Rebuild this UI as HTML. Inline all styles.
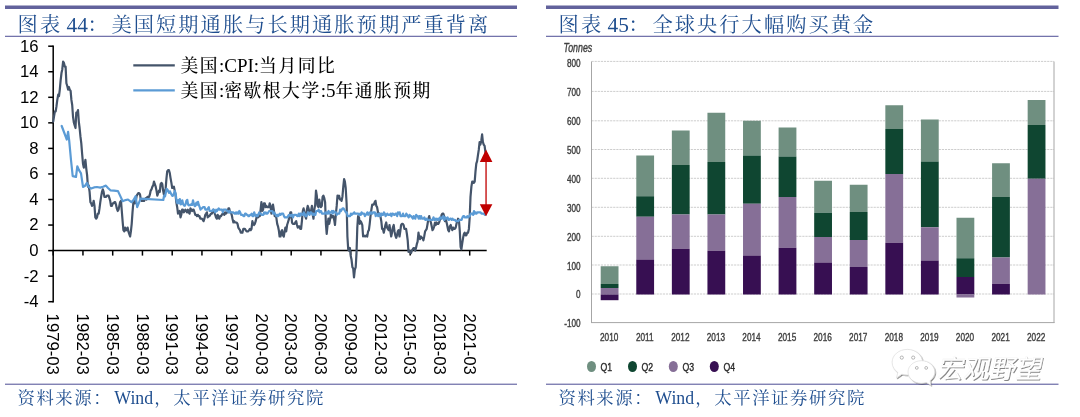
<!DOCTYPE html>
<html lang="zh-CN"><head><meta charset="utf-8"><title>图表</title>
<style>
html,body{margin:0;padding:0;background:#fff}
body{width:1080px;height:417px;overflow:hidden;position:relative}
svg{position:absolute;left:0;top:0;display:block}
.kai{font-family:"Liberation Serif","Noto Serif CJK SC",serif}
.ttl{font-size:20.2px;letter-spacing:2.1px;fill:#1f4e8f}
.lt{font-size:21.4px;letter-spacing:0}
.src{font-size:17.4px;letter-spacing:1.6px;fill:#1f4e8f}
.ls{font-size:17.8px;letter-spacing:0}
.lg{font-size:17.8px;letter-spacing:1.5px;font-weight:500;fill:#000}
.ll{font-size:19px;letter-spacing:0;font-weight:400}
.ax{font-family:"Liberation Sans",sans-serif;font-size:16.7px;fill:#000}
.wm{font-family:"Liberation Sans","Noto Sans CJK SC",sans-serif;font-size:26px;font-weight:400}
.nar{font-family:"Liberation Sans",sans-serif;font-size:11.2px;fill:#404040;stroke:#404040;stroke-width:0.4px}
</style></head><body>
<svg width="1080" height="417" viewBox="0 0 1080 417">
<rect width="1080" height="417" fill="#fff"/>
<!-- header bars -->
<rect x="5" y="5.5" width="512" height="3.5" fill="#62629c"/>
<rect x="546" y="5.5" width="512.5" height="3.5" fill="#62629c"/>
<rect x="5" y="35.75" width="512" height="1.15" fill="#6464a2"/>
<rect x="546" y="35.75" width="512.5" height="1.15" fill="#6464a2"/>
<rect x="5" y="383.65" width="512" height="1.15" fill="#6464a2"/>
<rect x="546" y="383.65" width="512.5" height="1.15" fill="#6464a2"/>
<text class="kai ttl" x="17.6" y="31.5" xml:space="preserve">图表<tspan class="lt" dx="4.4">44</tspan><tspan dx="-0.4">：</tspan><tspan dx="1.6">美国短期通胀与长期通胀预期严重背离</tspan></text>
<text class="kai ttl" x="558.6" y="31.5" xml:space="preserve">图表<tspan class="lt" dx="4.4">45</tspan><tspan dx="-0.4">：</tspan><tspan dx="1.6">全球央行大幅购买黄金</tspan></text>
<text class="kai src" x="17.4" y="403.6" xml:space="preserve">资料来源：<tspan class="ls" dx="2.0">Wind</tspan><tspan dx="1">，太平洋证券研究院</tspan></text>
<text class="kai src" x="558.4" y="403.6" xml:space="preserve">资料来源：<tspan class="ls" dx="2.0">Wind</tspan><tspan dx="1">，太平洋证券研究院</tspan></text>

<!-- left chart -->
<g stroke="#000" stroke-width="1.5" fill="none">
<line x1="53.2" x2="53.2" y1="45.45" y2="302.45"/>
<line x1="52.45" x2="486.7" y1="250.60" y2="250.60"/>
<line x1="48.2" x2="53.2" y1="301.70" y2="301.70"/><line x1="48.2" x2="53.2" y1="276.15" y2="276.15"/><line x1="48.2" x2="53.2" y1="250.60" y2="250.60"/><line x1="48.2" x2="53.2" y1="225.05" y2="225.05"/><line x1="48.2" x2="53.2" y1="199.50" y2="199.50"/><line x1="48.2" x2="53.2" y1="173.95" y2="173.95"/><line x1="48.2" x2="53.2" y1="148.40" y2="148.40"/><line x1="48.2" x2="53.2" y1="122.85" y2="122.85"/><line x1="48.2" x2="53.2" y1="97.30" y2="97.30"/><line x1="48.2" x2="53.2" y1="71.75" y2="71.75"/><line x1="48.2" x2="53.2" y1="46.20" y2="46.20"/>
<line x1="53.20" x2="53.20" y1="250.60" y2="255.60"/><line x1="82.95" x2="82.95" y1="250.60" y2="255.60"/><line x1="112.70" x2="112.70" y1="250.60" y2="255.60"/><line x1="142.45" x2="142.45" y1="250.60" y2="255.60"/><line x1="172.20" x2="172.20" y1="250.60" y2="255.60"/><line x1="201.95" x2="201.95" y1="250.60" y2="255.60"/><line x1="231.70" x2="231.70" y1="250.60" y2="255.60"/><line x1="261.45" x2="261.45" y1="250.60" y2="255.60"/><line x1="291.20" x2="291.20" y1="250.60" y2="255.60"/><line x1="320.95" x2="320.95" y1="250.60" y2="255.60"/><line x1="350.70" x2="350.70" y1="250.60" y2="255.60"/><line x1="380.45" x2="380.45" y1="250.60" y2="255.60"/><line x1="410.20" x2="410.20" y1="250.60" y2="255.60"/><line x1="439.95" x2="439.95" y1="250.60" y2="255.60"/><line x1="469.70" x2="469.70" y1="250.60" y2="255.60"/>
</g>
<g class="ax"><text x="38.6" y="307.10" text-anchor="end">-4</text><text x="38.6" y="281.55" text-anchor="end">-2</text><text x="38.6" y="256.00" text-anchor="end">0</text><text x="38.6" y="230.45" text-anchor="end">2</text><text x="38.6" y="204.90" text-anchor="end">4</text><text x="38.6" y="179.35" text-anchor="end">6</text><text x="38.6" y="153.80" text-anchor="end">8</text><text x="38.6" y="128.25" text-anchor="end">10</text><text x="38.6" y="102.70" text-anchor="end">12</text><text x="38.6" y="77.15" text-anchor="end">14</text><text x="38.6" y="51.60" text-anchor="end">16</text></g>
<g class="ax"><text transform="translate(47.30,313.6) rotate(90)">1979-03</text><text transform="translate(77.05,313.6) rotate(90)">1982-03</text><text transform="translate(106.80,313.6) rotate(90)">1985-03</text><text transform="translate(136.55,313.6) rotate(90)">1988-03</text><text transform="translate(166.30,313.6) rotate(90)">1991-03</text><text transform="translate(196.05,313.6) rotate(90)">1994-03</text><text transform="translate(225.80,313.6) rotate(90)">1997-03</text><text transform="translate(255.55,313.6) rotate(90)">2000-03</text><text transform="translate(285.30,313.6) rotate(90)">2003-03</text><text transform="translate(315.05,313.6) rotate(90)">2006-03</text><text transform="translate(344.80,313.6) rotate(90)">2009-03</text><text transform="translate(374.55,313.6) rotate(90)">2012-03</text><text transform="translate(404.30,313.6) rotate(90)">2015-03</text><text transform="translate(434.05,313.6) rotate(90)">2018-03</text><text transform="translate(463.80,313.6) rotate(90)">2021-03</text></g>
<polyline points="53.2,121.6 54.0,116.5 54.9,111.4 55.7,111.4 56.5,106.2 57.3,99.9 58.2,94.7 59.0,96.0 59.8,89.6 60.6,80.7 61.5,73.0 62.3,69.2 63.1,61.5 63.9,62.8 64.8,66.6 65.6,66.6 66.4,83.2 67.2,85.8 68.1,89.6 68.9,87.1 69.7,89.6 70.6,90.9 71.4,99.9 72.2,105.0 73.0,116.5 73.9,122.8 74.7,125.4 75.5,128.0 76.3,112.6 77.2,112.6 78.0,110.1 78.8,121.6 79.6,128.0 80.5,136.9 81.3,143.3 82.1,153.5 83.0,163.7 83.8,167.6 84.6,165.0 85.4,159.9 86.3,168.8 87.1,175.2 87.9,186.7 88.7,185.4 89.6,191.8 90.4,202.1 91.2,203.3 92.0,205.9 92.9,204.6 93.7,200.8 94.5,205.9 95.3,217.4 96.2,218.7 97.0,217.4 97.8,213.6 98.7,213.6 99.5,208.4 100.3,202.1 101.1,196.9 102.0,191.8 102.8,189.3 103.6,191.8 104.4,196.9 105.3,196.9 106.1,196.9 106.9,195.7 107.7,195.7 108.6,195.7 109.4,198.2 110.2,200.8 111.0,205.9 111.9,205.9 112.7,203.3 113.5,203.3 114.4,202.1 115.2,202.1 116.0,204.6 116.8,208.4 117.7,211.0 118.5,209.7 119.3,205.9 120.1,202.1 121.0,200.8 121.8,211.0 122.6,221.2 123.4,230.2 124.3,231.4 125.1,227.6 125.9,230.2 126.7,230.2 127.6,227.6 128.4,231.4 129.2,234.0 130.1,236.5 130.9,231.4 131.7,223.8 132.5,212.3 133.4,202.1 134.2,200.8 135.0,203.3 135.8,200.8 136.7,195.7 137.5,194.4 138.3,193.1 139.1,193.1 140.0,194.4 140.8,199.5 141.6,200.8 142.4,200.8 143.3,200.8 144.1,200.8 144.9,199.5 145.8,198.2 146.6,199.5 147.4,196.9 148.2,196.9 149.1,196.9 149.9,194.4 150.7,190.6 151.5,189.3 152.4,186.7 153.2,185.4 154.0,181.6 154.8,184.2 155.7,186.7 156.5,190.6 157.3,195.7 158.2,193.1 159.0,190.6 159.8,191.8 160.6,184.2 161.5,182.9 162.3,184.2 163.1,190.6 163.9,194.4 164.8,190.6 165.6,189.3 166.4,179.1 167.2,171.4 168.1,170.1 168.9,170.1 169.7,172.7 170.5,177.8 171.4,182.9 172.2,188.0 173.0,188.0 173.9,186.7 174.7,190.6 175.5,194.4 176.3,202.1 177.2,207.2 178.0,213.6 178.8,212.3 179.6,211.0 180.5,217.4 181.3,214.8 182.1,209.7 182.9,209.7 183.8,212.3 184.6,211.0 185.4,209.7 186.2,211.0 187.1,212.3 187.9,209.7 188.7,212.3 189.6,213.6 190.4,208.4 191.2,209.7 192.0,211.0 192.9,209.7 193.7,209.7 194.5,212.3 195.3,214.8 196.2,214.8 197.0,216.1 197.8,214.8 198.6,216.1 199.5,216.1 200.3,218.7 201.1,218.7 201.9,218.7 202.8,219.9 203.6,221.2 204.4,218.7 205.3,214.8 206.1,213.6 206.9,212.3 207.7,217.4 208.6,216.1 209.4,216.1 210.2,214.8 211.0,213.6 211.9,213.6 212.7,211.0 213.5,209.7 214.3,212.3 215.2,214.8 216.0,217.4 216.8,218.7 217.7,214.8 218.5,217.4 219.3,218.7 220.1,216.1 221.0,216.1 221.8,214.8 222.6,213.6 223.4,213.6 224.3,214.8 225.1,212.3 225.9,213.6 226.7,212.3 227.6,212.3 228.4,208.4 229.2,208.4 230.0,212.3 230.9,212.3 231.7,214.8 232.5,218.7 233.4,222.5 234.2,221.2 235.0,222.5 235.8,222.5 236.7,222.5 237.5,223.8 238.3,227.6 239.1,228.9 240.0,230.2 240.8,232.7 241.6,232.7 242.4,232.7 243.3,228.9 244.1,228.9 244.9,228.9 245.7,230.2 246.6,231.4 247.4,231.4 248.2,231.4 249.1,230.2 249.9,228.9 250.7,230.2 251.5,228.9 252.4,221.2 253.2,223.8 254.0,225.0 254.8,223.8 255.7,221.2 256.5,217.4 257.3,217.4 258.1,217.4 259.0,216.1 259.8,216.1 260.6,209.7 261.4,202.1 262.3,211.0 263.1,209.7 263.9,203.3 264.8,203.3 265.6,207.2 266.4,205.9 267.2,207.2 268.1,207.2 268.9,207.2 269.7,203.3 270.5,205.9 271.4,213.6 272.2,208.4 273.0,204.6 273.8,209.7 274.7,216.1 275.5,216.1 276.3,217.4 277.2,223.8 278.0,226.3 278.8,230.2 279.6,236.5 280.5,236.5 281.3,231.4 282.1,230.2 282.9,235.3 283.8,236.5 284.6,231.4 285.4,227.6 286.2,231.4 287.1,225.0 287.9,222.5 288.7,219.9 289.5,217.4 290.4,212.3 291.2,212.3 292.0,222.5 292.9,223.8 293.7,223.8 294.5,223.8 295.3,222.5 296.2,221.2 297.0,225.0 297.8,227.6 298.6,226.3 299.5,226.3 300.3,228.9 301.1,228.9 301.9,221.2 302.8,211.0 303.6,208.4 304.4,212.3 305.2,216.1 306.1,218.7 306.9,209.7 307.7,205.9 308.6,208.4 309.4,212.3 310.2,212.3 311.0,211.0 311.9,205.9 312.7,214.8 313.5,218.7 314.3,209.7 315.2,204.6 316.0,190.6 316.8,195.7 317.6,205.9 318.5,207.2 319.3,199.5 320.1,204.6 320.9,207.2 321.8,205.9 322.6,196.9 323.4,195.7 324.3,198.2 325.1,202.1 325.9,223.8 326.7,234.0 327.6,225.0 328.4,218.7 329.2,223.8 330.0,219.9 330.9,214.8 331.7,217.4 332.5,216.1 333.3,216.1 334.2,219.9 335.0,225.0 335.8,214.8 336.7,205.9 337.5,195.7 338.3,198.2 339.1,195.7 340.0,199.5 340.8,199.5 341.6,200.8 342.4,196.9 343.3,186.7 344.1,179.1 344.9,181.6 345.7,188.0 346.6,203.3 347.4,236.5 348.2,249.3 349.0,250.6 349.9,248.0 350.7,255.7 351.5,259.5 352.4,267.2 353.2,268.5 354.0,277.4 354.8,269.8 355.7,267.2 356.5,253.2 357.3,227.6 358.1,216.1 359.0,217.4 359.8,223.8 360.6,221.2 361.4,222.5 362.3,225.0 363.1,236.5 363.9,235.3 364.7,236.5 365.6,236.5 366.4,235.3 367.2,236.5 368.1,231.4 368.9,230.2 369.7,223.8 370.5,216.1 371.4,209.7 372.2,204.6 373.0,204.6 373.8,204.6 374.7,202.1 375.5,200.8 376.3,205.9 377.1,207.2 378.0,212.3 378.8,213.6 379.6,213.6 380.4,216.1 381.3,221.2 382.1,228.9 382.9,228.9 383.8,232.7 384.6,228.9 385.4,225.0 386.2,222.5 387.1,227.6 387.9,228.9 388.7,230.2 389.5,225.0 390.4,231.4 391.2,236.5 392.0,232.7 392.8,227.6 393.7,225.0 394.5,231.4 395.3,235.3 396.2,237.8 397.0,235.3 397.8,231.4 398.6,230.2 399.5,236.5 400.3,231.4 401.1,225.0 401.9,223.8 402.8,223.8 403.6,225.0 404.4,228.9 405.2,228.9 406.1,228.9 406.9,234.0 407.7,240.4 408.5,251.9 409.4,250.6 410.2,251.9 411.0,253.2 411.9,250.6 412.7,249.3 413.5,248.0 414.3,248.0 415.2,250.6 416.0,248.0 416.8,244.2 417.6,241.7 418.5,232.7 419.3,237.8 420.1,239.1 420.9,236.5 421.8,237.8 422.6,237.8 423.4,240.4 424.2,236.5 425.1,231.4 425.9,230.2 426.7,228.9 427.6,223.8 428.4,218.7 429.2,216.1 430.0,219.9 430.9,222.5 431.7,226.3 432.5,230.2 433.3,228.9 434.2,226.3 435.0,222.5 435.8,225.0 436.6,222.5 437.5,223.8 438.3,223.8 439.1,222.5 439.9,219.9 440.8,218.7 441.6,214.8 442.4,213.6 443.3,213.6 444.1,216.1 444.9,221.2 445.7,218.7 446.6,222.5 447.4,226.3 448.2,230.2 449.0,231.4 449.9,226.3 450.7,225.0 451.5,227.6 452.3,230.2 453.2,227.6 454.0,228.9 454.8,228.9 455.7,227.6 456.5,223.8 457.3,221.2 458.1,218.7 459.0,221.2 459.8,231.4 460.6,246.8 461.4,249.3 462.3,242.9 463.1,237.8 463.9,234.0 464.7,232.7 465.6,235.3 466.4,235.3 467.2,232.7 468.0,232.7 468.9,228.9 469.7,217.4 470.5,196.9 471.4,186.7 472.2,181.6 473.0,181.6 473.8,182.9 474.7,181.6 475.5,171.4 476.3,163.7 477.1,161.2 478.0,154.8 478.8,149.7 479.6,142.0 480.4,144.6 481.3,140.7 482.1,134.3 482.9,142.0 483.7,144.6 484.6,145.8 485.4,152.2 486.2,159.9" fill="none" stroke="#44546a" stroke-width="2.2" stroke-linejoin="round" stroke-linecap="round"/>
<polyline points="61.7,126.0 66.8,139.5 68.1,131.8 69.2,140.7 71.0,160.0 72.7,176.1 76.0,176.9 77.3,166.3 79.0,170.1 81.0,173.4 83.0,186.9 84.8,186.1 86.9,182.9 88.5,186.7 91.1,188.6 94.0,187.4 97.0,187.0 100.3,187.6 103.0,186.7 105.9,185.6 108.0,188.0 110.4,190.3 114.0,190.6 118.0,191.1 122.7,201.2 125.5,200.1 128.0,199.5 131.4,202.1 133.5,200.1 135.6,196.2 137.2,207.2 139.0,202.7 140.6,198.7 163.3,200.0 164.1,195.5 165.0,196.4 165.8,193.1 166.6,188.8 167.4,189.5 168.3,191.5 169.1,192.9 169.9,191.3 170.7,193.1 171.6,194.7 172.4,195.9 173.2,195.5 174.0,193.1 174.9,191.0 175.7,194.0 176.5,200.6 177.3,203.1 178.2,200.1 179.0,203.3 179.8,199.0 180.7,204.4 181.5,203.8 182.3,200.3 183.1,203.9 184.0,205.4 184.8,205.8 185.6,204.2 186.4,200.8 187.3,199.9 188.1,204.7 188.9,205.4 189.7,204.8 190.6,205.2 191.4,204.1 192.2,204.9 193.0,200.3 193.9,204.2 194.7,206.2 195.5,205.7 196.4,202.6 197.2,204.7 198.0,201.8 198.8,204.9 199.7,207.1 200.5,209.7 201.3,208.4 202.1,208.4 203.0,207.2 203.8,207.2 204.6,207.2 205.4,209.7 206.3,209.7 207.1,209.7 207.9,208.4 208.8,207.2 209.6,211.0 210.4,211.0 211.2,211.0 212.1,211.0 212.9,209.7 213.7,209.7 214.5,211.0 215.4,212.3 216.2,209.7 217.0,211.0 217.8,209.7 218.7,208.4 219.5,209.7 220.3,209.7 221.1,209.7 222.0,209.7 222.8,212.3 223.6,209.7 224.5,209.7 225.3,209.7 226.1,209.7 226.9,211.0 227.8,211.0 228.6,212.3 229.4,211.0 230.2,212.3 231.1,212.3 231.9,212.3 232.7,212.3 233.5,212.3 234.4,213.6 235.2,213.6 236.0,212.3 236.8,213.6 237.7,212.3 238.5,213.6 239.3,211.0 240.2,212.3 241.0,214.8 241.8,214.8 242.6,214.8 243.5,216.1 244.3,216.1 245.1,213.6 245.9,213.6 246.8,214.8 247.6,214.8 248.4,216.1 249.2,216.1 250.1,214.8 250.9,214.8 251.7,213.6 252.5,216.1 253.4,216.1 254.2,212.3 255.0,214.8 255.9,216.1 256.7,214.8 257.5,216.1 258.3,214.8 259.2,212.3 260.0,213.6 260.8,213.6 261.6,214.8 262.5,214.8 263.3,214.8 264.1,212.3 264.9,213.6 265.8,212.3 266.6,213.6 267.4,213.6 268.3,212.3 269.1,211.0 269.9,211.0 270.7,211.0 271.6,211.0 272.4,211.0 273.2,213.6 274.0,212.3 274.9,213.6 275.7,214.8 276.5,216.1 277.3,214.8 278.2,216.1 279.0,214.8 279.8,213.6 280.6,214.8 281.5,213.6 282.3,213.6 283.1,213.6 284.0,216.1 284.8,217.4 285.6,217.4 286.4,217.4 287.3,217.4 288.1,216.1 288.9,214.8 289.7,214.8 290.6,216.1 291.4,214.8 292.2,214.8 293.0,217.4 293.9,214.8 294.7,214.8 295.5,214.8 296.3,214.8 297.2,216.1 298.0,216.1 298.8,213.6 299.7,216.1 300.5,213.6 301.3,213.6 302.1,214.8 303.0,214.8 303.8,212.3 304.6,213.6 305.4,216.1 306.3,216.1 307.1,214.8 307.9,212.3 308.7,213.6 309.6,214.8 310.4,212.3 311.2,212.3 312.1,213.6 312.9,214.8 313.7,213.6 314.5,214.8 315.4,214.8 316.2,211.0 317.0,211.0 317.8,211.0 318.7,209.7 319.5,212.3 320.3,211.0 321.1,211.0 322.0,213.6 322.8,213.6 323.6,213.6 324.4,213.6 325.3,212.3 326.1,213.6 326.9,212.3 327.8,213.6 328.6,211.0 329.4,213.6 330.2,212.3 331.1,212.3 331.9,211.0 332.7,213.6 333.5,211.0 334.4,212.3 335.2,212.3 336.0,212.3 336.8,214.8 337.7,213.6 338.5,213.6 339.3,213.6 340.1,209.7 341.0,211.0 341.8,209.7 342.6,208.4 343.5,208.4 344.3,209.7 345.1,211.0 345.9,212.3 346.8,212.3 347.6,216.1 348.4,216.1 349.2,216.1 350.1,216.1 350.9,213.6 351.7,214.8 352.5,213.6 353.4,213.6 354.2,212.3 355.0,213.6 355.8,213.6 356.7,213.6 357.5,213.6 358.3,213.6 359.2,214.8 360.0,213.6 360.8,214.8 361.6,212.3 362.5,213.6 363.3,213.6 364.1,213.6 364.9,216.1 365.8,214.8 366.6,213.6 367.4,212.3 368.2,214.8 369.1,213.6 369.9,212.3 370.7,213.6 371.6,212.3 372.4,213.6 373.2,212.3 374.0,212.3 374.9,212.3 375.7,216.1 376.5,213.6 377.3,214.8 378.2,216.1 379.0,213.6 379.8,213.6 380.6,216.1 381.5,213.6 382.3,214.8 383.1,214.8 383.9,212.3 384.8,213.6 385.6,216.1 386.4,214.8 387.3,213.6 388.1,214.8 388.9,214.8 389.7,214.8 390.6,213.6 391.4,216.1 392.2,213.6 393.0,213.6 393.9,214.8 394.7,214.8 395.5,213.6 396.3,213.6 397.2,216.1 398.0,212.3 398.8,213.6 399.6,212.3 400.5,216.1 401.3,216.1 402.1,216.1 403.0,213.6 403.8,216.1 404.6,216.1 405.4,216.1 406.3,213.6 407.1,214.8 407.9,216.1 408.7,217.4 409.6,214.8 410.4,216.1 411.2,216.1 412.0,217.4 412.9,218.7 413.7,216.1 414.5,217.4 415.3,218.7 416.2,214.8 417.0,216.1 417.8,216.1 418.7,218.7 419.5,216.1 420.3,218.7 421.1,216.1 422.0,218.7 422.8,218.7 423.6,218.7 424.4,217.4 425.3,219.9 426.1,219.9 426.9,218.7 427.7,219.9 428.6,219.9 429.4,219.9 430.2,219.9 431.1,219.9 431.9,219.9 432.7,219.9 433.5,217.4 434.4,219.9 435.2,218.7 436.0,219.9 436.8,218.7 437.7,219.9 438.5,218.7 439.3,219.9 440.1,217.4 441.0,217.4 441.8,218.7 442.6,217.4 443.4,216.1 444.3,219.9 445.1,217.4 445.9,218.7 446.8,218.7 447.6,217.4 448.4,219.9 449.2,219.9 450.1,218.7 450.9,218.7 451.7,219.9 452.5,218.7 453.4,219.9 454.2,219.9 455.0,219.9 455.8,221.2 456.7,221.2 457.5,221.2 458.3,221.2 459.1,219.9 460.0,219.9 460.8,219.9 461.6,219.9 462.5,217.4 463.3,216.1 464.1,216.1 464.9,217.4 465.8,217.4 466.6,217.4 467.4,216.1 468.2,217.4 469.1,216.1 469.9,216.1 470.7,213.6 471.5,213.6 472.4,213.6 473.2,214.8 474.0,211.0 474.8,213.6 475.7,212.3 476.5,213.6 477.3,212.3 478.2,212.3 479.0,212.3 479.8,212.3 480.6,212.3 481.5,213.6 482.3,213.6 483.1,213.6 483.9,213.6 484.8,214.8 485.6,214.8" fill="none" stroke="#5b9bd5" stroke-width="2.2" stroke-linejoin="round" stroke-linecap="round"/>
<line x1="133.3" x2="174.8" y1="65.3" y2="65.3" stroke="#44546a" stroke-width="2.2"/>
<line x1="133.3" x2="174.8" y1="90.4" y2="90.4" stroke="#5b9bd5" stroke-width="2.2"/>
<text class="kai lg" x="180.4" y="72.2">美国<tspan class="ll">:CPI:</tspan>当月同比</text>
<text class="kai lg" x="180.4" y="97.3">美国<tspan class="ll">:</tspan>密歇根大学<tspan class="ll">:5</tspan>年通胀预期</text>
<!-- arrow -->
<g fill="#c00000" stroke="none">
<rect x="485.4" y="160" width="1.3" height="46"/>
<polygon points="486,149.5 492.4,162 479.8,162"/>
<polygon points="486,216.3 492.4,204.2 479.8,204.2"/>
</g>

<!-- right chart -->
<g stroke="#cdcdcd" stroke-width="1" stroke-dasharray="2.2,0.9" fill="none">
<line x1="591.5" x2="1054" y1="294.00" y2="294.00"/><line x1="591.5" x2="1054" y1="265.00" y2="265.00"/><line x1="591.5" x2="1054" y1="236.30" y2="236.30"/><line x1="591.5" x2="1054" y1="207.30" y2="207.30"/><line x1="591.5" x2="1054" y1="178.30" y2="178.30"/><line x1="591.5" x2="1054" y1="149.50" y2="149.50"/><line x1="591.5" x2="1054" y1="120.80" y2="120.80"/><line x1="591.5" x2="1054" y1="91.40" y2="91.40"/><line x1="591.5" x2="1054" y1="61.40" y2="61.40"/>
</g>
<g><rect x="636.28" y="155.50" width="17.8" height="40.75" fill="#6f8f80"/><rect x="636.28" y="196.25" width="17.8" height="20.50" fill="#0f4631"/><rect x="636.28" y="216.75" width="17.8" height="42.75" fill="#866f97"/><rect x="636.28" y="259.50" width="17.8" height="35.00" fill="#370f52"/><rect x="671.86" y="130.50" width="17.8" height="34.50" fill="#6f8f80"/><rect x="671.86" y="165.00" width="17.8" height="49.50" fill="#0f4631"/><rect x="671.86" y="214.50" width="17.8" height="34.25" fill="#866f97"/><rect x="671.86" y="248.75" width="17.8" height="45.75" fill="#370f52"/><rect x="707.44" y="112.75" width="17.8" height="49.25" fill="#6f8f80"/><rect x="707.44" y="162.00" width="17.8" height="52.50" fill="#0f4631"/><rect x="707.44" y="214.50" width="17.8" height="36.25" fill="#866f97"/><rect x="707.44" y="250.75" width="17.8" height="43.75" fill="#370f52"/><rect x="743.02" y="120.75" width="17.8" height="34.75" fill="#6f8f80"/><rect x="743.02" y="155.50" width="17.8" height="48.25" fill="#0f4631"/><rect x="743.02" y="203.75" width="17.8" height="51.75" fill="#866f97"/><rect x="743.02" y="255.50" width="17.8" height="39.00" fill="#370f52"/><rect x="778.60" y="127.50" width="17.8" height="29.00" fill="#6f8f80"/><rect x="778.60" y="156.50" width="17.8" height="40.50" fill="#0f4631"/><rect x="778.60" y="197.00" width="17.8" height="50.75" fill="#866f97"/><rect x="778.60" y="247.75" width="17.8" height="46.75" fill="#370f52"/><rect x="814.18" y="180.75" width="17.8" height="32.00" fill="#6f8f80"/><rect x="814.18" y="212.75" width="17.8" height="24.25" fill="#0f4631"/><rect x="814.18" y="237.00" width="17.8" height="25.50" fill="#866f97"/><rect x="814.18" y="262.50" width="17.8" height="32.00" fill="#370f52"/><rect x="849.76" y="184.75" width="17.8" height="27.25" fill="#6f8f80"/><rect x="849.76" y="212.00" width="17.8" height="28.00" fill="#0f4631"/><rect x="849.76" y="240.00" width="17.8" height="27.00" fill="#866f97"/><rect x="849.76" y="267.00" width="17.8" height="27.50" fill="#370f52"/><rect x="885.34" y="105.25" width="17.8" height="23.75" fill="#6f8f80"/><rect x="885.34" y="129.00" width="17.8" height="45.00" fill="#0f4631"/><rect x="885.34" y="174.00" width="17.8" height="68.75" fill="#866f97"/><rect x="885.34" y="242.75" width="17.8" height="51.75" fill="#370f52"/><rect x="920.92" y="119.50" width="17.8" height="42.00" fill="#6f8f80"/><rect x="920.92" y="161.50" width="17.8" height="65.75" fill="#0f4631"/><rect x="920.92" y="227.25" width="17.8" height="33.25" fill="#866f97"/><rect x="920.92" y="260.50" width="17.8" height="34.00" fill="#370f52"/><rect x="992.08" y="163.25" width="17.8" height="33.75" fill="#6f8f80"/><rect x="992.08" y="197.00" width="17.8" height="60.50" fill="#0f4631"/><rect x="992.08" y="257.50" width="17.8" height="26.25" fill="#866f97"/><rect x="992.08" y="283.75" width="17.8" height="10.75" fill="#370f52"/><rect x="600.70" y="266.25" width="17.8" height="17.75" fill="#6f8f80"/><rect x="600.70" y="284.00" width="17.8" height="4.00" fill="#0f4631"/><rect x="600.70" y="288.00" width="17.8" height="6.50" fill="#866f97"/><rect x="600.70" y="294.50" width="17.8" height="5.70" fill="#370f52"/><rect x="956.50" y="217.75" width="17.8" height="40.50" fill="#6f8f80"/><rect x="956.50" y="258.25" width="17.8" height="18.75" fill="#0f4631"/><rect x="956.50" y="277.00" width="17.8" height="17.50" fill="#370f52"/><rect x="956.50" y="294.50" width="17.8" height="3.00" fill="#866f97"/><rect x="1027.66" y="100.00" width="17.8" height="25.00" fill="#6f8f80"/><rect x="1027.66" y="125.00" width="17.8" height="53.75" fill="#0f4631"/><rect x="1027.66" y="178.75" width="17.8" height="115.75" fill="#866f97"/></g>
<g stroke="#a6a6a6" stroke-width="1" fill="none">
<line x1="591.5" x2="591.5" y1="61.5" y2="323"/>
<line x1="591" x2="1054.5" y1="322.6" y2="322.6"/>
<line x1="1054" x2="1054" y1="61.5" y2="323"/>
</g>
<g class="nar"><text transform="translate(580.6,327.40) scale(0.73,1)" text-anchor="end">-100</text><text transform="translate(580.6,298.45) scale(0.73,1)" text-anchor="end">0</text><text transform="translate(580.6,269.50) scale(0.73,1)" text-anchor="end">100</text><text transform="translate(580.6,240.55) scale(0.73,1)" text-anchor="end">200</text><text transform="translate(580.6,211.60) scale(0.73,1)" text-anchor="end">300</text><text transform="translate(580.6,182.65) scale(0.73,1)" text-anchor="end">400</text><text transform="translate(580.6,153.70) scale(0.73,1)" text-anchor="end">500</text><text transform="translate(580.6,124.75) scale(0.73,1)" text-anchor="end">600</text><text transform="translate(580.6,95.80) scale(0.73,1)" text-anchor="end">700</text><text transform="translate(580.6,66.85) scale(0.73,1)" text-anchor="end">800</text></g>
<g class="nar"><text transform="translate(609.20,341.0) scale(0.735,1)" text-anchor="middle">2010</text><text transform="translate(644.78,341.0) scale(0.735,1)" text-anchor="middle">2011</text><text transform="translate(680.36,341.0) scale(0.735,1)" text-anchor="middle">2012</text><text transform="translate(715.94,341.0) scale(0.735,1)" text-anchor="middle">2013</text><text transform="translate(751.52,341.0) scale(0.735,1)" text-anchor="middle">2014</text><text transform="translate(787.10,341.0) scale(0.735,1)" text-anchor="middle">2015</text><text transform="translate(822.68,341.0) scale(0.735,1)" text-anchor="middle">2016</text><text transform="translate(858.26,341.0) scale(0.735,1)" text-anchor="middle">2017</text><text transform="translate(893.84,341.0) scale(0.735,1)" text-anchor="middle">2018</text><text transform="translate(929.42,341.0) scale(0.735,1)" text-anchor="middle">2019</text><text transform="translate(965.00,341.0) scale(0.735,1)" text-anchor="middle">2020</text><text transform="translate(1000.58,341.0) scale(0.735,1)" text-anchor="middle">2021</text><text transform="translate(1036.16,341.0) scale(0.735,1)" text-anchor="middle">2022</text></g>
<text class="nar" transform="translate(563.6,52.2) scale(0.68,1)" style="font-style:italic;font-size:13px">Tonnes</text>
<g>
<ellipse cx="591.5" cy="366.5" rx="4.5" ry="5.6" fill="#6f8f80"/>
<ellipse cx="632.5" cy="366.5" rx="4.5" ry="5.6" fill="#0f4631"/>
<ellipse cx="673.3" cy="366.5" rx="4.5" ry="5.6" fill="#866f97"/>
<ellipse cx="714.3" cy="366.5" rx="4.5" ry="5.6" fill="#370f52"/>
</g>
<g class="nar" style="font-size:11.8px;fill:#2b2b2b;stroke:#2b2b2b">
<text transform="translate(600.4,371.2) scale(0.74,1)">Q1</text><text transform="translate(641.5,371.2) scale(0.74,1)">Q2</text><text transform="translate(682.5,371.2) scale(0.74,1)">Q3</text><text transform="translate(723.5,371.2) scale(0.74,1)">Q4</text>
</g>
<!-- watermark -->
<defs><filter id="sh" x="-10%" y="-10%" width="125%" height="125%"><feDropShadow dx="0.9" dy="0.9" stdDeviation="0.55" flood-color="#000" flood-opacity="0.5"/></filter></defs>
<g filter="url(#sh)" fill="#fff" stroke="#d8d8d8" stroke-width="0.6">
<path d="M907.3,349.4c8.4,0 15.2,5.7 15.2,12.8c0,7.1 -6.8,12.8 -15.2,12.8c-1.9,0 -3.7,-0.3 -5.4,-0.8l-5.4,3.8l1.3,-5.6c-3.4,-2.3 -5.7,-6 -5.7,-10.2c0,-7.1 6.8,-12.8 15.2,-12.8z"/>
<path d="M921.4,360.7c7.4,0 13.4,5.1 13.4,11.3c0,3.5 -1.9,6.6 -4.8,8.7l0.9,4.6l-4.6,-2.8c-1.5,0.5 -3.2,0.8 -4.9,0.8c-7.4,0 -13.4,-5.1 -13.4,-11.3c0,-6.2 6,-11.3 13.4,-11.3z"/>
</g>
<g fill="#fff" stroke="#9a9a9a" stroke-width="0.7">
<circle cx="901.8" cy="357.6" r="1.6"/><circle cx="913.2" cy="357.6" r="1.6"/>
<circle cx="916.8" cy="367.9" r="1.4"/><circle cx="926.2" cy="367.9" r="1.4"/>
</g>
<g class="wm">
<text transform="translate(937.9,378.5) skewX(-12)" fill="#858585">宏观野望</text>
<text transform="translate(937.0,377.6) skewX(-12)" fill="#fff" stroke="#f0f0f0" stroke-width="0.25">宏观野望</text>
</g>
</svg>
</body></html>
